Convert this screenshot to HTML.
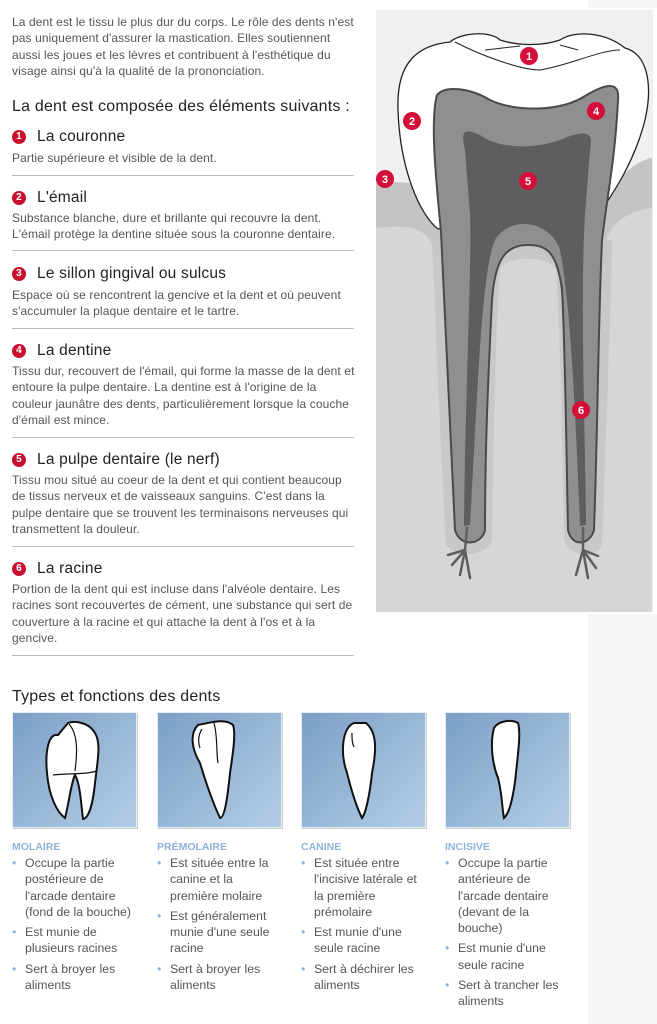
<!DOCTYPE html>
<html><head><meta charset="utf-8"><style>
*{margin:0;padding:0;box-sizing:border-box}
body{width:657px;height:1024px;background:#fff;font-family:"Liberation Sans",sans-serif;color:#555;position:relative;overflow:hidden}
.strip{position:absolute;left:588px;top:0;width:69px;height:1024px;background:#f6f6f9}
.p{position:absolute;left:12px;font-size:12px;letter-spacing:0.1px;line-height:16.3px;color:#555;width:346px}
.h{position:absolute;left:12px;font-size:16px;letter-spacing:0.2px;color:#222}
.it{position:absolute;left:12px;font-size:15.5px;letter-spacing:0.2px;color:#222;display:flex;align-items:center}
.n{display:inline-block;width:14px;height:14px;border-radius:50%;background:#c8102e;color:#fff;font-size:10px;font-weight:bold;text-align:center;line-height:14px;margin-right:11px}
.rule{position:absolute;left:12px;width:342px;height:1px;background:#bbb}
.card{position:absolute;top:712px;width:125px;height:116px;background:linear-gradient(135deg,#7b9fc6,#b4cde6);border:1px solid #e6eef6;box-shadow:1px 1px 0 #ccc}
.lab{position:absolute;top:841px;font-size:10.5px;font-weight:bold;color:#8fb3da}
ul{position:absolute;top:855px;list-style:none;font-size:12.3px;line-height:16.3px;color:#555;width:124px}
li{position:relative;padding-left:13px;margin-bottom:4px}
li:before{content:"•";position:absolute;left:0;color:#8fb3da}
</style></head><body>
<div class="strip"></div>
<div class="p" style="top:14px">La dent est le tissu le plus dur du corps. Le rôle des dents n'est pas uniquement d'assurer la mastication. Elles soutiennent aussi les joues et les lèvres et contribuent à l'esthétique du visage ainsi qu'à la qualité de la prononciation.</div>
<div class="h" style="top:98px">La dent est composée des éléments suivants :</div>

<div class="it" style="top:128px"><span class="n">1</span>La couronne</div>
<div class="p" style="top:150px">Partie supérieure et visible de la dent.</div>
<div class="rule" style="top:175px"></div>

<div class="it" style="top:189px"><span class="n">2</span>L'émail</div>
<div class="p" style="top:210px">Substance blanche, dure et brillante qui recouvre la dent. L'émail protège la dentine située sous la couronne dentaire.</div>
<div class="rule" style="top:250px"></div>

<div class="it" style="top:265px"><span class="n">3</span>Le sillon gingival ou sulcus</div>
<div class="p" style="top:287px">Espace où se rencontrent la gencive et la dent et où peuvent s'accumuler la plaque dentaire et le tartre.</div>
<div class="rule" style="top:328px"></div>

<div class="it" style="top:342px"><span class="n">4</span>La dentine</div>
<div class="p" style="top:363px">Tissu dur, recouvert de l'émail, qui forme la masse de la dent et entoure la pulpe dentaire. La dentine est à l'origine de la couleur jaunâtre des dents, particulièrement lorsque la couche d'émail est mince.</div>
<div class="rule" style="top:437px"></div>

<div class="it" style="top:451px"><span class="n">5</span>La pulpe dentaire (le nerf)</div>
<div class="p" style="top:472px">Tissu mou situé au coeur de la dent et qui contient beaucoup de tissus nerveux et de vaisseaux sanguins. C'est dans la pulpe dentaire que se trouvent les terminaisons nerveuses qui transmettent la douleur.</div>
<div class="rule" style="top:546px"></div>

<div class="it" style="top:560px"><span class="n">6</span>La racine</div>
<div class="p" style="top:581px">Portion de la dent qui est incluse dans l'alvéole dentaire. Les racines sont recouvertes de cément, une substance qui sert de couverture à la racine et qui attache la dent à l'os et à la gencive.</div>
<div class="rule" style="top:655px"></div>

<svg style="position:absolute;left:0;top:0" width="657" height="620">
<rect x="374" y="8" width="283" height="606" fill="#fff"/>
<rect x="376" y="10" width="277" height="602" fill="#f0f0f2"/>
<path d="M376,183 C410,180 430,185 440,200 L610,190 C625,170 640,160 652,158 L652,612 L376,612Z" fill="#c4c4c6"/>
<path d="M376,228 C410,224 425,228 432,245 L606,240 C612,222 630,210 652,208 L652,612 L376,612Z" fill="#d6d6d8"/>
<path d="M432,240 C436,330 440,440 446,545 C460,560 488,555 492,540 C494,420 496,320 500,270 C505,255 550,255 556,270 C560,320 562,430 564,540 C570,558 596,558 602,545 C606,440 610,330 612,240Z" fill="#c8c8ca"/>
<path d="M438,229 C420,215 400,170 398,110 C396,60 420,45 450,42 C460,33 490,30 500,40 C515,45 540,47 560,40 C575,30 605,32 625,48 C650,55 652,90 645,120 C635,160 615,190 605,205 Z" fill="#fff" stroke="#222" stroke-width="1.3"/>
<path d="M455,42 C480,55 520,70 540,70 C570,65 600,50 620,50" fill="none" stroke="#222" stroke-width="1"/>
<path d="M485,50 L520,46 M560,45 L578,50" stroke="#222" stroke-width="1" fill="none"/>
<path d="M441,232 C436,180 430,120 437,95 C445,85 470,88 490,100 C515,112 560,112 585,96 C605,84 620,80 618,100 C615,160 608,190 602,240 C598,330 598,420 594,530 C590,545 572,548 568,530 C566,430 565,340 562,290 C557,250 545,245 528,245 C505,245 495,260 492,300 C488,380 485,450 485,530 C482,545 460,548 455,530 C450,420 446,320 441,232Z" fill="#8f8f92" stroke="#4a4a4c" stroke-width="2"/>
<path d="M465,150 C460,130 465,128 480,135 C500,150 540,150 570,136 C590,130 593,135 590,150 L585,215 C580,300 585,420 586,525 L580,526 C575,400 570,300 560,250 C550,220 510,215 495,240 C482,270 478,380 470,525 L464,526 C465,400 472,260 470,215Z" fill="#5e5e60"/>
<g stroke="#5e5e60" stroke-width="2.5" fill="none" stroke-linecap="round">
<path d="M467,528 L465,550 L448,555 M465,550 L452,565 M465,550 L460,575 M465,550 L470,578"/>
<path d="M583,528 L583,550 L598,556 M583,550 L596,568 M583,550 L588,578 M583,550 L576,575"/>
</g>
<g fill="#d40f3a"><circle cx="529" cy="56" r="9"/><circle cx="412" cy="121" r="9"/><circle cx="385" cy="179" r="9"/><circle cx="596" cy="111" r="9"/><circle cx="528" cy="181" r="9"/><circle cx="581" cy="410" r="9"/></g>
<g fill="#fff" font-size="11" font-weight="bold" text-anchor="middle" font-family="Liberation Sans"><text x="529" y="60">1</text><text x="412" y="125">2</text><text x="385" y="183">3</text><text x="596" y="115">4</text><text x="528" y="185">5</text><text x="581" y="414">6</text></g>
</svg>

<div class="h" style="top:688px">Types et fonctions des dents</div>
<div class="card" style="left:12px"><svg width="125" height="116"><path d="M45,22 C35,20 32,40 34,60 C36,85 45,100 52,105 C56,90 58,70 62,62 C67,70 68,90 70,106 C76,105 80,90 82,70 C85,45 88,30 82,20 C75,8 60,8 55,10 Z" fill="#fff" stroke="#111" stroke-width="2"/><path d="M56,11 C64,20 65,35 62,58 M40,62 C55,60 70,62 84,58" fill="none" stroke="#111" stroke-width="1.2"/></svg></div>
<div class="card" style="left:157px"><svg width="125" height="116"><path d="M40,12 C32,20 33,35 42,50 C48,70 55,90 62,105 C67,105 70,80 72,60 C75,40 78,20 75,12 C68,6 58,8 40,12Z" fill="#fff" stroke="#111" stroke-width="2"/><path d="M56,10 C60,25 58,40 60,50 M44,16 C40,22 40,30 42,35" fill="none" stroke="#111" stroke-width="1.2"/></svg></div>
<div class="card" style="left:301px"><svg width="125" height="116"><path d="M52,10 C40,15 38,40 45,60 C50,80 55,95 60,105 C64,100 68,80 70,60 C74,40 76,20 64,10 Z" fill="#fff" stroke="#111" stroke-width="2"/><path d="M50,20 C50,26 50,30 52,34" fill="none" stroke="#111" stroke-width="1.2"/></svg></div>
<div class="card" style="left:445px"><svg width="125" height="116"><path d="M48,15 C44,30 46,50 52,65 C56,80 56,95 58,105 C64,100 68,80 70,60 C72,40 75,20 72,10 C65,6 52,8 48,15Z" fill="#fff" stroke="#111" stroke-width="2"/></svg></div>

<div class="lab" style="left:12px">MOLAIRE</div>
<div class="lab" style="left:157px">PRÉMOLAIRE</div>
<div class="lab" style="left:301px">CANINE</div>
<div class="lab" style="left:445px">INCISIVE</div>
<ul style="left:12px"><li>Occupe la partie postérieure de l'arcade dentaire (fond de la bouche)</li><li>Est munie de plusieurs racines</li><li>Sert à broyer les aliments</li></ul>
<ul style="left:157px"><li>Est située entre la canine et la première molaire</li><li>Est généralement munie d'une seule racine</li><li>Sert à broyer les aliments</li></ul>
<ul style="left:301px"><li>Est située entre l'incisive latérale et la première prémolaire</li><li>Est munie d'une seule racine</li><li>Sert à déchirer les aliments</li></ul>
<ul style="left:445px"><li>Occupe la partie antérieure de l'arcade dentaire (devant de la bouche)</li><li>Est munie d'une seule racine</li><li>Sert à trancher les aliments</li></ul>
</body></html>
